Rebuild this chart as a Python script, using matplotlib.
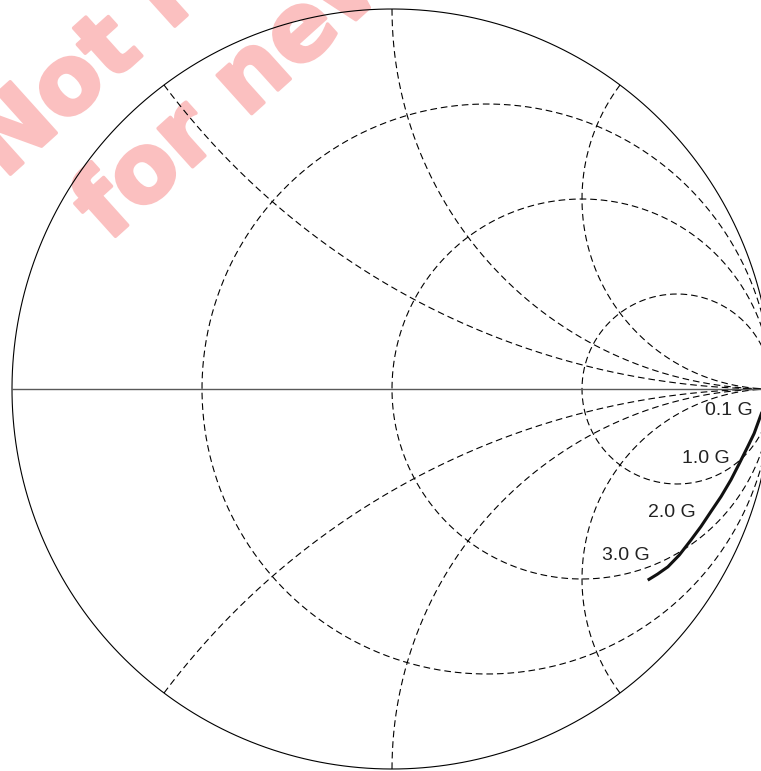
import numpy as np
import matplotlib.pyplot as plt
import matplotlib.patheffects as pe

plt.rcParams['font.family'] = ['Liberation Sans', 'DejaVu Sans']

# Smith-Diagramm Gitter
r_circles = [1/3, 1.0, 3.0]
x_arcs = [0.5, 1.0, 2.0]

# Messkurve (Reflexionsfaktor)
trace_re = [0.985, 0.969, 0.953, 0.936, 0.914, 0.892, 0.866, 0.839,
            0.813, 0.787, 0.756, 0.726, 0.699, 0.673]
trace_im = [-0.030, -0.073, -0.117, -0.152, -0.196, -0.239, -0.283, -0.323,
            -0.362, -0.397, -0.437, -0.468, -0.487, -0.503]

# Frequenzmarken
label_text = ['0.1 G', '1.0 G', '2.0 G', '3.0 G']
label_re = [0.953, 0.891, 0.802, 0.680]
label_im = [-0.116, -0.242, -0.383, -0.497]

W, H = 761, 771
fig = plt.figure(figsize=(W/100, H/100), dpi=100)
ax = fig.add_axes([0, 0, 1, 1])
ax.set_xlim(-392/380, (W-392)/380)
ax.set_ylim(-(H-389)/380, 389/380)
ax.axis('off')

dash = (0, (6, 3.5))
t = np.linspace(0, 2*np.pi, 600)

# Aussenkreis
ax.plot(np.cos(t), np.sin(t), color='black', lw=0.8, zorder=3)
ax.plot([-1, 1], [0, 0], color='0.35', lw=1.0, zorder=3)

# Widerstandskreise
for r in r_circles:
    c = r/(r+1)
    rad = 1/(r+1)
    ax.plot(c + rad*np.cos(t), rad*np.sin(t), color='black', lw=0.8,
            linestyle=dash, zorder=2)

# Reaktanzboegen
rr = np.tan(np.linspace(0, np.pi/2 - 1e-4, 800))
for xv in x_arcs:
    for s in (1, -1):
        z = rr + 1j*s*xv
        g = (z - 1)/(z + 1)
        ax.plot(g.real, g.imag, color='black', lw=0.8, linestyle=dash, zorder=2)

# Kurve
ax.plot(trace_re, trace_im, color='#111111', lw=2.2, zorder=4,
        solid_capstyle='butt', solid_joinstyle='round')

for txt, gx, gy in zip(label_text, label_re, label_im):
    ax.annotate(txt, (gx, gy), xytext=(-1, 17.6), textcoords='offset pixels',
                ha='right', va='baseline', fontsize=14, color='#222222',
                zorder=5)

# Wasserzeichen
wm = dict(transform=ax.transAxes, rotation=42, rotation_mode='anchor',
          ha='left', va='baseline', fontsize=68, fontweight='bold',
          family='DejaVu Sans', color='#fbc0c0', zorder=0,
          path_effects=[pe.withStroke(linewidth=2.5, foreground='#fbc0c0')])
ax.text(4/W, 1 - 180/H, 'Not recommended', **wm)
ax.text(108/W, 1 - 243/H, 'for new designs', **wm)

fig.savefig('out.png', dpi=100)
